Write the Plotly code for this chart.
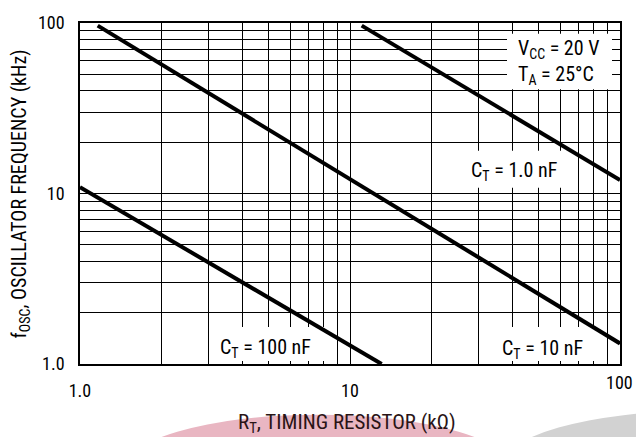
import plotly.graph_objects as go

# ── Data ──────────────────────────────────────────────────────────────────────
r_1nf = [11.05, 100]      # RT, kOhm
f_1nf = [96.5, 12.0]      # fOSC, kHz
r_10nf = [1.163, 100]
f_10nf = [96.5, 1.32]
r_100nf = [1.0, 13.1]
f_100nf = [10.9, 1.0]

grid_vals = [1, 2, 3, 4, 5, 6, 7, 8, 9, 10, 20, 30, 40, 50, 60, 70, 80, 90, 100]
y_text = ["1.0", "", "", "", "", "", "", "", "", "10",
          "", "", "", "", "", "", "", "", "100"]
x_text = y_text[:-1] + [""]   # "100" on x is drawn separately so it isn't clipped

FONT = "Liberation Sans Narrow, Arial Narrow, Roboto Condensed, Liberation Sans, sans-serif"

# plot area in pixels: x 80..620, y 14..364
L, R, T, B = 80, 620, 14, 364


def px(x):
    return (x - L) / (R - L)


def py(y):
    return (B - y) / (B - T)


def dx(x):
    return 10 ** (2 * (x - L) / (R - L))


def dy(y):
    return 10 ** (2 * (B - y) / (B - T))


fig = go.Figure()

# white boxes behind the curve labels (they break the grid, but sit under the curves)
boxes = [(462, 145, 566, 183), (507, 25, 612, 82),
         (212, 326, 330, 361), (488, 326, 598, 361)]
for x0, y0, x1, y1 in boxes:
    fig.add_trace(go.Scatter(
        x=[dx(x0), dx(x1), dx(x1), dx(x0), dx(x0)],
        y=[dy(y0), dy(y0), dy(y1), dy(y1), dy(y0)],
        mode="lines", fill="toself", fillcolor="white",
        line=dict(width=0, color="white"), showlegend=False, hoverinfo="skip"))

for xs, ys in [(r_1nf, f_1nf), (r_10nf, f_10nf), (r_100nf, f_100nf)]:
    fig.add_trace(go.Scatter(x=xs, y=ys, mode="lines",
                             line=dict(color="black", width=4),
                             showlegend=False, hoverinfo="skip"))

axis = dict(type="log", range=[0, 2], tickvals=grid_vals,
            showgrid=True, gridcolor="black", gridwidth=1,
            showline=True, mirror=True, linecolor="black", linewidth=1.5,
            ticks="", zeroline=False, ticklabelstandoff=10,
            tickfont=dict(family=FONT, size=18, color="black"))

fig.update_layout(
    width=636, height=437,
    margin=dict(l=L, r=636 - R, t=T, b=437 - B),
    paper_bgcolor="white", plot_bgcolor="white",
    xaxis=dict(axis, ticktext=x_text),
    yaxis=dict(axis, ticktext=y_text),
    font=dict(family=FONT, color="black"),
)

# faint watermark arcs under the x title
fig.add_shape(type="circle", xref="paper", yref="paper",
              x0=px(119), x1=px(517), y0=py(536), y1=py(416),
              fillcolor="#e9b6c2", line_width=0, layer="below")
fig.add_shape(type="circle", xref="paper", yref="paper",
              x0=px(500), x1=px(900), y0=py(530), y1=py(412),
              fillcolor="#d2d2d2", line_width=0, layer="below")

labels = [
    ("C<sub>T</sub> = 1.0 nF", 514, 166),
    ("V<sub>CC</sub> = 20 V<br>T<sub>A</sub> = 25°C", 558, 54),
    ("C<sub>T</sub> = 100 nF", 265, 348),
    ("C<sub>T</sub> = 10 nF", 542, 349),
]
for text, x, y in labels:
    fig.add_annotation(text=text, xref="paper", yref="paper", x=px(x), y=py(y),
                       showarrow=False, xanchor="center", yanchor="middle",
                       align="left", font=dict(family=FONT, size=20, color="black"))

fig.add_annotation(text="100", xref="paper", yref="paper", x=px(635), y=py(383),
                   showarrow=False, xanchor="right", yanchor="middle",
                   font=dict(family=FONT, size=18, color="black"))

fig.add_annotation(text="R<sub>T</sub>, TIMING RESISTOR (kΩ)", xref="paper", yref="paper",
                   x=px(347), y=py(425), showarrow=False,
                   xanchor="center", yanchor="middle",
                   font=dict(family=FONT, size=21, color="#2a1416"))
fig.add_annotation(text="f<sub>OSC</sub>, OSCILLATOR FREQUENCY (kHz)", xref="paper", yref="paper",
                   x=px(20), y=py(190), showarrow=False, textangle=-90,
                   xanchor="center", yanchor="middle",
                   font=dict(family=FONT, size=20, color="black"))

# drop the default page margin so the 636x437 figure fills the window exactly
fig.write_html("out.html", config={"displayModeBar": False},
               post_script="document.body.style.margin='0';"
                           "document.body.style.overflow='hidden';")
